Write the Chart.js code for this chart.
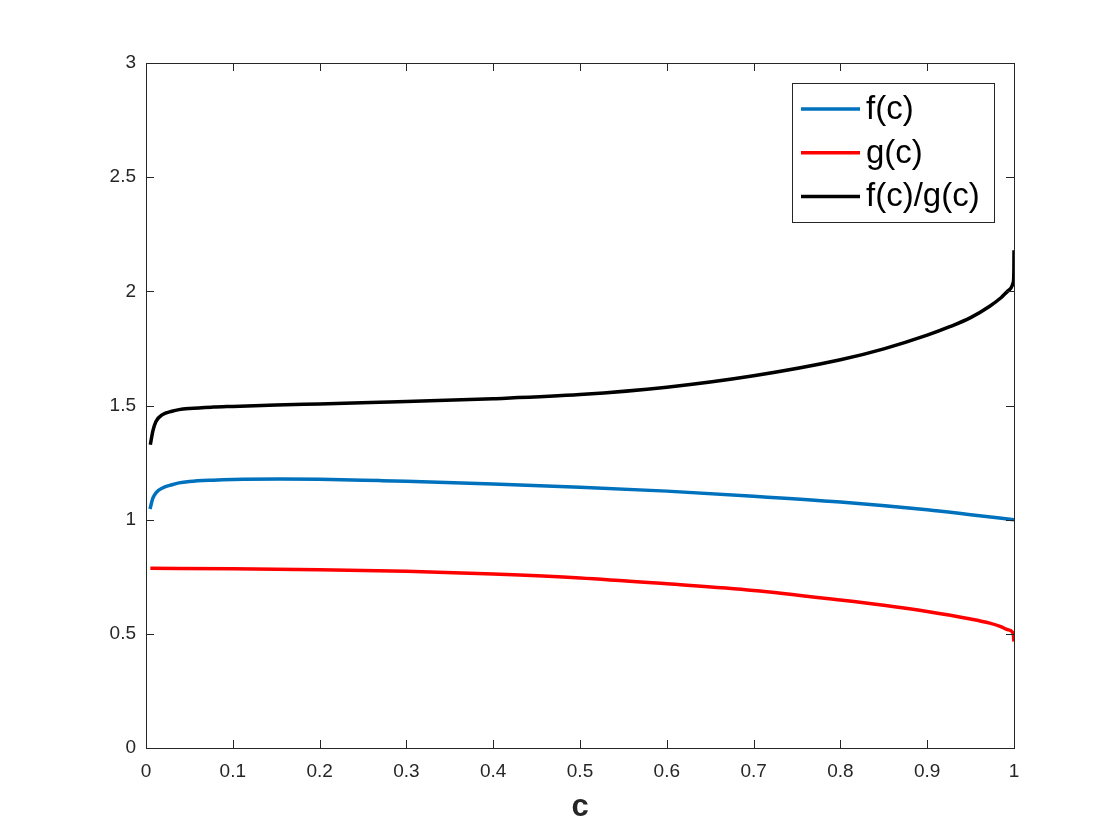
<!DOCTYPE html>
<html>
<head>
<meta charset="utf-8">
<script src="https://cdn.jsdelivr.net/npm/chart.js@4/dist/chart.umd.min.js"></script>
<style>
  html, body { margin: 0; padding: 0; background: #fff; }
  #wrap { width: 1120px; height: 840px; }
</style>
</head>
<body>
<div id="wrap"><canvas id="chart" width="1120" height="840"></canvas></div>
<script>
// values
const ratioC = [0.005, 0.008, 0.0115, 0.019, 0.03, 0.038, 0.05, 0.077, 0.1, 0.15, 0.2, 0.269, 0.3, 0.4, 0.5, 0.6, 0.7, 0.8, 0.85, 0.9, 0.926, 0.95, 0.972, 0.985, 0.995, 0.9992, 0.9999, 1.0];
const ratioVals = [1.328, 1.39, 1.43, 1.46, 1.475, 1.482, 1.487, 1.493, 1.496, 1.502, 1.507, 1.514, 1.517, 1.530, 1.548, 1.580, 1.630, 1.700, 1.748, 1.808, 1.845, 1.885, 1.935, 1.972, 2.008, 2.04, 2.10, 2.18];

const fC = [0.0046, 0.008, 0.012, 0.019, 0.03, 0.038, 0.05, 0.077, 0.1, 0.154, 0.2, 0.269, 0.3, 0.4, 0.5, 0.6, 0.7, 0.8, 0.9, 0.95, 1.0];
const fVals = [1.047, 1.095, 1.12, 1.139, 1.153, 1.161, 1.167, 1.173, 1.176, 1.178, 1.177, 1.171, 1.168, 1.156, 1.142, 1.125, 1.103, 1.077, 1.043, 1.022, 1.0];

const gC = [0.005, 0.1, 0.2, 0.3, 0.4, 0.5, 0.6, 0.7, 0.8, 0.85, 0.9, 0.95, 0.972, 0.984, 0.993, 0.999, 1.0];
const gVals = [0.787, 0.785, 0.781, 0.774, 0.762, 0.745, 0.719, 0.690, 0.648, 0.625, 0.598, 0.565, 0.547, 0.533, 0.518, 0.503, 0.466];

const xTicks = [0, 0.1, 0.2, 0.3, 0.4, 0.5, 0.6, 0.7, 0.8, 0.9, 1];
const yTicks = [0, 0.5, 1, 1.5, 2, 2.5, 3];

const seriesNames = ['f(c)', 'g(c)', 'f(c)/g(c)'];
const seriesColors = ['#0072BD', '#FF0000', '#000000'];

function pts(xs, ys) {
  return xs.map((x, i) => ({ x: x, y: ys[i] }));
}

const axisColor = '#262626';
const tickFont = { family: 'Liberation Sans, Arial, sans-serif', size: 19 };

// box around the plot with MATLAB-style inward ticks on every side
const boxTicks = {
  id: 'boxTicks',
  afterDraw(chart) {
    const ctx = chart.ctx;
    const a = chart.chartArea;
    const xs = chart.scales.x, ys = chart.scales.y;
    ctx.save();
    ctx.strokeStyle = axisColor;
    ctx.lineWidth = 1;
    ctx.strokeRect(a.left + 0.5, a.top + 0.5, a.right - a.left, a.bottom - a.top);
    ctx.beginPath();
    xTicks.forEach(v => {
      const px = Math.round(xs.getPixelForValue(v)) + 0.5;
      ctx.moveTo(px, a.bottom); ctx.lineTo(px, a.bottom - 8);
      ctx.moveTo(px, a.top); ctx.lineTo(px, a.top + 8);
    });
    yTicks.forEach(v => {
      const py = Math.round(ys.getPixelForValue(v)) + 0.5;
      ctx.moveTo(a.left, py); ctx.lineTo(a.left + 8, py);
      ctx.moveTo(a.right, py); ctx.lineTo(a.right - 8, py);
    });
    ctx.stroke();

    // legend box in the top right corner
    const lx = 792, ly = 83, lw = 202, lh = 139;
    ctx.fillStyle = '#fff';
    ctx.fillRect(lx, ly, lw, lh);
    ctx.strokeStyle = axisColor;
    ctx.strokeRect(lx + 0.5, ly + 0.5, lw, lh);
    ctx.font = '33px "Liberation Sans", Arial, sans-serif';
    ctx.textBaseline = 'middle';
    ctx.fillStyle = '#000';
    chart.data.datasets.forEach((ds, i) => {
      const cy = 109 + i * 43.7;
      ctx.strokeStyle = ds.borderColor;
      ctx.lineWidth = 3.5;
      ctx.beginPath();
      ctx.moveTo(801, cy); ctx.lineTo(860, cy);
      ctx.stroke();
      ctx.fillText(ds.label, 866, cy + 1);
    });
    ctx.restore();
  }
};

new Chart(document.getElementById('chart'), {
  type: 'scatter',
  data: {
    datasets: [
      { label: seriesNames[0], data: pts(fC, fVals), borderColor: seriesColors[0] },
      { label: seriesNames[1], data: pts(gC, gVals), borderColor: seriesColors[1] },
      { label: seriesNames[2], data: pts(ratioC, ratioVals), borderColor: seriesColors[2] }
    ].map(d => Object.assign(d, {
      showLine: true, pointRadius: 0, borderWidth: 3.5,
      cubicInterpolationMode: 'monotone', fill: false
    }))
  },
  options: {
    responsive: false,
    animation: false,
    layout: { padding: { left: 0, top: 63, right: 106, bottom: 0 } },
    plugins: { legend: { display: false }, tooltip: { enabled: false } },
    scales: {
      x: {
        type: 'linear', min: 0, max: 1,
        afterFit(s) { s.height = 92; },
        afterBuildTicks(s) { s.ticks = xTicks.map(v => ({ value: v })); },
        grid: { display: false, drawTicks: false },
        border: { display: false },
        ticks: { color: axisColor, font: tickFont, padding: 12, maxRotation: 0,
                 callback: v => String(v) },
        title: { display: true, text: 'c', color: axisColor,
                 font: { family: 'Liberation Sans, Arial, sans-serif', size: 31, weight: 'bold' },
                 padding: { top: 0, bottom: 14 } }
      },
      y: {
        type: 'linear', min: 0, max: 3,
        afterFit(s) { s.width = 146; },
        afterBuildTicks(s) { s.ticks = yTicks.map(v => ({ value: v })); },
        grid: { display: false, drawTicks: false },
        border: { display: false },
        ticks: { color: axisColor, font: tickFont, padding: 10,
                 callback: v => String(v) }
      }
    }
  },
  plugins: [boxTicks]
});
</script>
</body>
</html>
